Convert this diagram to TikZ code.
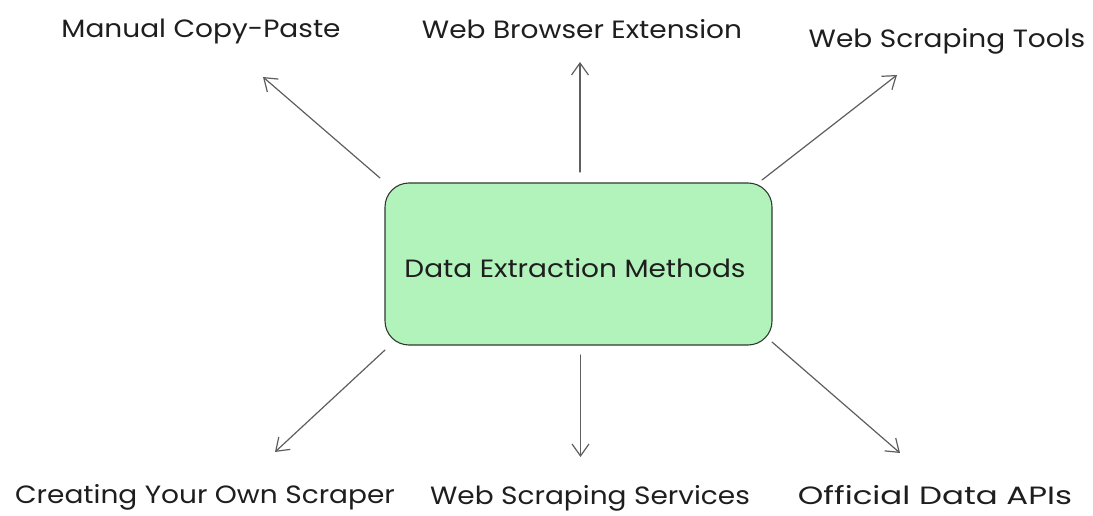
\documentclass[tikz,border=0pt]{standalone}
\usepackage{fontspec}
\setmainfont{Poppins}[FakeStretch=1.12]
\usetikzlibrary{arrows.meta}
\definecolor{boxfill}{HTML}{B2F2BB}
\definecolor{boxline}{HTML}{2F3A30}
\definecolor{arrowgray}{HTML}{5E5E5E}
\definecolor{inkblack}{HTML}{1E1E1E}
\tikzset{
  centerbox/.style={draw=boxline, line width=1.1pt, fill=boxfill, rounded corners=24pt},
  label/.style={inner sep=0pt, text=inkblack, font=\fontsize{25}{28}\selectfont},
  link/.style={draw=arrowgray, line width=1.2pt, line cap=round,
    -{Straight Barb[length=12pt, width=17pt, line width=1.2pt]}}
}
\begin{document}
\begin{tikzpicture}[x=1pt, y=-1pt]
  \useasboundingbox (0,0) rectangle (1093,516);
  % central box
  \draw[centerbox] (385,183) rectangle (772,345);
  \node[label] (center) at (575,268) {Data Extraction Methods};
  % outer labels
  \node[label] (manual)   at (201,32) {Manual Copy-Paste};
  \node[label] (browser)  at (582,29) {Web Browser Extension};
  \node[label] (tools)    at (947,41) {Web Scraping Tools};
  \node[label] (own)      at (205,497) {Creating Your Own Scraper};
  \node[label] (services) at (590,498) {Web Scraping Services};
  \node[label] (apis)     at (935,495) {\scalebox{1.16}[1]{Official Data APIs}};
  % arrow ends
  \coordinate (t1) at (380,178); \coordinate (h1) at (263,77);
  \coordinate (t2) at (580,172); \coordinate (h2) at (580,62);
  \coordinate (t3) at (762,180); \coordinate (h3) at (897,75);
  \coordinate (t4) at (385,350); \coordinate (h4) at (275,452);
  \coordinate (t5) at (580.5,355); \coordinate (h5) at (580.5,457);
  \coordinate (t6) at (772,342); \coordinate (h6) at (900,453);
  \draw[link] (t1) -- (h1);
  \draw[link] (t2) -- (h2);
  \draw[link] (t3) -- (h3);
  \draw[link] (t4) -- (h4);
  \draw[link] (t5) -- (h5);
  \draw[link] (t6) -- (h6);
\end{tikzpicture}
\end{document}
